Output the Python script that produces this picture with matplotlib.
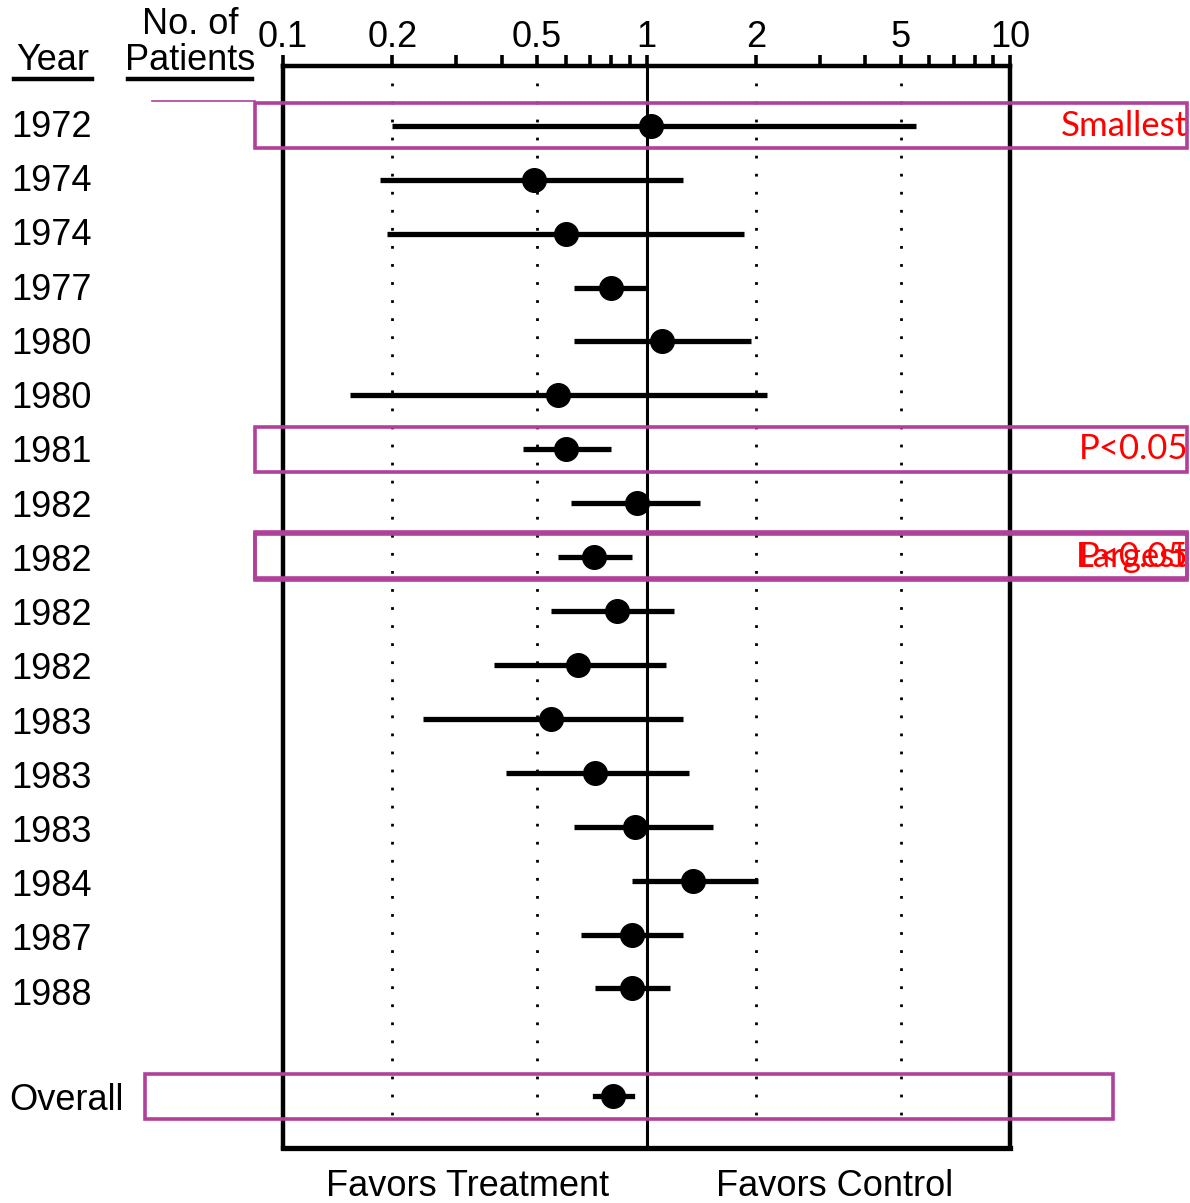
import numpy as np
import matplotlib
matplotlib.use('Agg')
import matplotlib.pyplot as plt
from matplotlib.patches import Rectangle
from matplotlib.transforms import blended_transform_factory
from matplotlib.ticker import FixedLocator, NullFormatter

plt.rcParams['font.family'] = ['Liberation Sans', 'DejaVu Sans']

# ---- data (odds ratio, 95% CI) ----
years = ['1972', '1974', '1974', '1977', '1980', '1980', '1981', '1982', '1982',
         '1982', '1982', '1983', '1983', '1983', '1984', '1987', '1988']
odds = [1.03, 0.49, 0.60, 0.80, 1.10, 0.57, 0.60, 0.94, 0.715,
        0.83, 0.65, 0.545, 0.72, 0.93, 1.34, 0.91, 0.915]
ci_low = [0.20, 0.185, 0.193, 0.63, 0.63, 0.153, 0.456, 0.62, 0.57,
          0.545, 0.38, 0.243, 0.41, 0.63, 0.915, 0.66, 0.72]
ci_high = [5.52, 1.26, 1.86, 1.0, 1.94, 2.15, 0.80, 1.40, 0.91,
           1.19, 1.13, 1.26, 1.31, 1.52, 2.03, 1.26, 1.16]
overall_label = 'Overall'
overall_odds = 0.81
overall_low, overall_high = 0.72, 0.915

major_ticks = [0.1, 0.2, 0.5, 1, 2, 5, 10]
major_labels = ['0.1', '0.2', '0.5', '1', '2', '5', '10']
minor_ticks = [0.3, 0.4, 0.6, 0.7, 0.8, 0.9, 3, 4, 6, 7, 8, 9]
ref_lines = [0.2, 0.5, 2, 5]

# highlighted rows (row index, red label)
highlight_rows = [0, 6, 8, 8]
highlight_text = ['Smallest', 'P<0.05', 'P<0.05', 'Largest']

W, H = 1190, 1203
fig = plt.figure(figsize=(W / 100, H / 100), dpi=100)
fig.patch.set_facecolor('white')

ax = fig.add_axes([283 / W, 1 - 1148 / H, (1010 - 283) / W, (1148 - 66) / H])
ax.set_xscale('log')
ax.set_xlim(0.1, 10)

ypos = np.arange(len(years))
overall_y = len(years) + 1
ax.set_ylim(18.96, -1.11)

# reference lines
for v in ref_lines:
    ax.plot([v, v], [-0.8, 18.6], color='black', lw=2.0, linestyle=(0, (1, 5.5)))
ax.axvline(1, color='black', lw=2.2)

# studies
for y, o, lo, hi in zip(ypos, odds, ci_low, ci_high):
    ax.plot([lo, hi], [y, y], color='black', lw=3.8, solid_capstyle='butt')
    ax.plot(o, y, 'o', color='black', markersize=17)
ax.plot([overall_low, overall_high], [overall_y, overall_y], color='black', lw=3.8)
ax.plot(overall_odds, overall_y, 'o', color='black', markersize=17)

# axes styling
for side in ['top', 'left', 'right']:
    ax.spines[side].set_linewidth(3.2)
ax.spines['bottom'].set_linewidth(3.8)
ax.xaxis.set_major_locator(FixedLocator(major_ticks))
ax.xaxis.set_minor_locator(FixedLocator(minor_ticks))
ax.set_xticklabels(major_labels)
ax.xaxis.set_minor_formatter(NullFormatter())
ax.xaxis.tick_top()
ax.tick_params(axis='x', which='both', direction='out', length=8, width=2.6,
               labelsize=26, pad=0, bottom=False)
ax.set_yticks([])

# year labels on the left (the scan drifts slightly downwards)
tr = blended_transform_factory(fig.transFigure, ax.transData)
for y, yr in zip(ypos, years):
    ax.text(11 / W, y + 0.03 + 0.006 * y, yr, transform=tr, fontsize=26,
            va='center', ha='left')
ax.text(9 / W, overall_y + 0.08, overall_label, transform=tr, fontsize=26,
        va='center', ha='left')

# column headers
fig.text(53 / W, 1 - 61 / H, 'Year', fontsize=26, ha='center', va='center')
fig.text(190 / W, 1 - 25 / H, 'No. of', fontsize=26, ha='center', va='center')
fig.text(190 / W, 1 - 61 / H, 'Patients', fontsize=26, ha='center', va='center')
for x0, x1 in [(14, 92), (128, 252)]:
    fig.add_artist(plt.Line2D([x0 / W, x1 / W], [1 - 79 / H, 1 - 79 / H],
                              color='black', lw=3.2))

# bottom captions
ax.text(0.254, -0.036, 'Favors Treatment', transform=ax.transAxes, fontsize=26,
        ha='center', va='center')
ax.text(0.758, -0.036, 'Favors Control', transform=ax.transAxes, fontsize=26,
        ha='center', va='center')

# purple boxes and red annotations
purple = '#b0409a'
half = 0.42
for k, (r, t) in enumerate(zip(highlight_rows, highlight_text)):
    off = 0.04 if (k == 3) else 0.0
    rect = Rectangle((255 / W, r - half - off), (1187 - 255) / W, 2 * half,
                     transform=tr, fill=False, edgecolor=purple, lw=2.6, clip_on=False)
    fig.add_artist(rect)
    ax.text(1188 / W, r, t, transform=tr, fontsize=25, color='red', ha='right',
            va='center', family=['Lato', 'DejaVu Sans'])
fig.add_artist(plt.Line2D([152 / W, 255 / W], [1 - 101 / H, 1 - 101 / H],
                          color=purple, lw=1.2))
rect = Rectangle((145 / W, overall_y - half), (1113 - 145) / W, 2 * half,
                 transform=tr, fill=False, edgecolor=purple, lw=2.6, clip_on=False)
fig.add_artist(rect)

fig.savefig('out.png', dpi=100, facecolor='white')
